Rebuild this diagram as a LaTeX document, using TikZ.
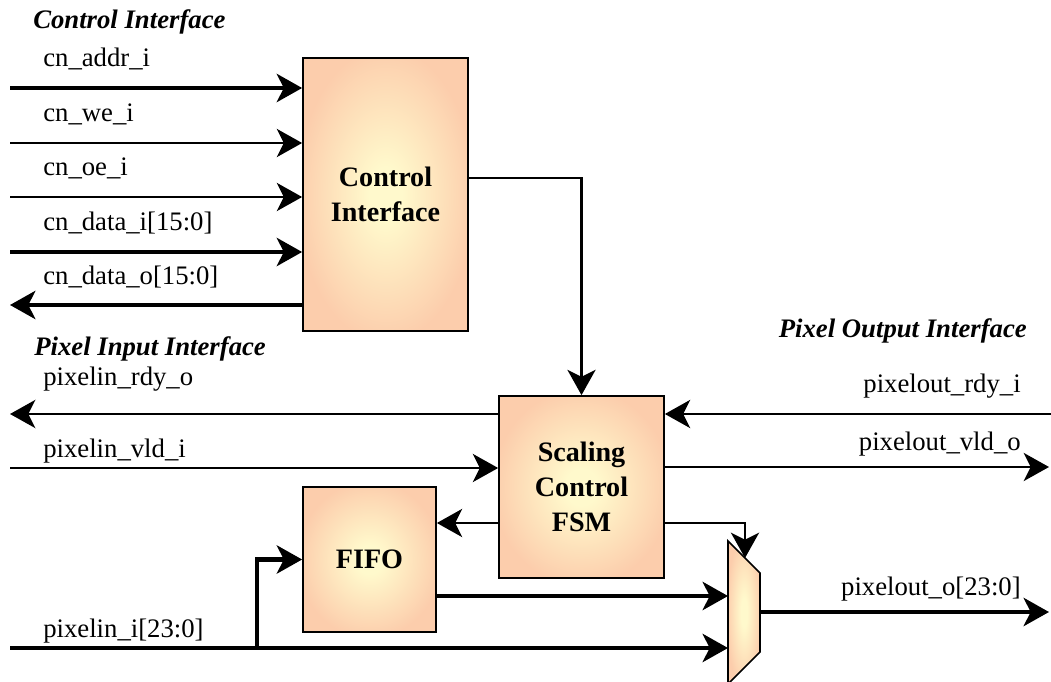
\documentclass[tikz,border=0pt]{standalone}
\usepackage{fontspec}
\setmainfont{Liberation Serif}
\usetikzlibrary{arrows.meta,calc}
\definecolor{glowin}{RGB}{255,249,204}
\definecolor{glowout}{RGB}{252,205,172}
\pgfdeclareradialshading{glow}{\pgfpoint{0bp}{0bp}}{color(0bp)=(glowin); color(5bp)=(glowin); color(27bp)=(glowout); color(50bp)=(glowout)}

\begin{document}
\begin{tikzpicture}[x=0.025cm, y=-0.025cm,
  blk/.style={draw, line width=1.2pt, shade, shading=glow, align=center, inner sep=0pt, font=\fontsize{20}{25}\selectfont\bfseries},
  sig/.style={line width=2pt, -{Stealth[length=18pt, width=20pt, inset=5pt]}},
  bus/.style={line width=3.4pt, -{Stealth[length=18pt, width=20pt, inset=5pt]}},
  lbl/.style={anchor=base west, inner sep=0pt, font=\fontsize{19}{22}\selectfont},
  rlbl/.style={anchor=base east, inner sep=0pt, font=\fontsize{19}{22}\selectfont},
  hdr/.style={anchor=base west, inner sep=0pt, font=\fontsize{19}{22}\selectfont\bfseries\itshape}]
    \useasboundingbox (0,0) rectangle (1051,682);
    % blocks
    \node[blk, minimum width=4.125cm, minimum height=6.825cm] (ctrl) at (385.5,194.5) {Control\\Interface};
    \node[blk, minimum width=4.125cm, minimum height=4.55cm] (fsm) at (581.5,487) {Scaling\\Control\\FSM};
    \node[blk, minimum width=3.325cm, minimum height=3.625cm] (fifo) at (369.5,559.5) {FIFO};
    \shadedraw[line width=1.2pt, shading=glow] (728,541) -- (760,573) -- (760,652) -- (728,684) -- cycle;
    \coordinate (muxsel) at (745,558);
    \coordinate (muxa) at (728,596);
    \coordinate (muxb) at (728,648);
    \coordinate (muxout) at (760,612);
    % headings
    \node[hdr] (hctrl) at (33,29) {Control Interface};
    \node[hdr] (hin) at (34,355) {Pixel Input Interface};
    \node[hdr, anchor=base east] (hout) at (1027,337) {Pixel Output Interface};
    % control port
    \coordinate (addr) at (10,88);
    \coordinate (we) at (10,143);
    \coordinate (oe) at (10,197);
    \coordinate (datai) at (10,252);
    \coordinate (datao) at (10,305);
    \node[lbl] (laddr) at (43,67) {cn\_addr\_i};
    \node[lbl] (lwe) at (43,122) {cn\_we\_i};
    \node[lbl] (loe) at (43,176) {cn\_oe\_i};
    \node[lbl] (ldatai) at (43,231) {cn\_data\_i[15:0]};
    \node[lbl] (ldatao) at (43,284) {cn\_data\_o[15:0]};
    \draw[bus] (addr) -- (addr -| ctrl.west);
    \draw[sig] (we) -- (we -| ctrl.west);
    \draw[sig] (oe) -- (oe -| ctrl.west);
    \draw[bus] (datai) -- (datai -| ctrl.west);
    \draw[bus] (datao -| ctrl.west) -- (datao);
    \draw[sig] ($(ctrl.east)+(0,-16.5)$) -| (fsm.north);
    % pixel input
    \coordinate (rdyo) at (10,414);
    \coordinate (vldi) at (10,468);
    \coordinate (pixi) at (10,648);
    \coordinate (tap) at (257,648);
    \node[lbl] (lrdyo) at (43,385) {pixelin\_rdy\_o};
    \node[lbl] (lvldi) at (43,457) {pixelin\_vld\_i};
    \node[lbl] (lpixi) at (43,637) {pixelin\_i[23:0]};
    \draw[sig] (rdyo -| fsm.west) -- (rdyo);
    \draw[sig] (vldi) -- (vldi -| fsm.west);
    \draw[bus] (pixi) -- (muxb);
    \draw[bus] (tap) |- (fifo.west);
    \coordinate (fsmfifo) at ($(fsm.west)+(0,36)$);
    \draw[sig] (fsmfifo) -- (fsmfifo -| fifo.east);
    \draw[bus] (fifo.east |- muxa) -- (muxa);
    \draw[sig] ($(fsm.east)+(0,36)$) -| (muxsel);
    % pixel output
    \coordinate (rdyi) at (1051,414);
    \coordinate (vldo) at (1049,467);
    \coordinate (pxo) at (1049,612);
    \node[rlbl] (lrdyi) at (1021,392) {pixelout\_rdy\_i};
    \node[rlbl] (lvldo) at (1021,450) {pixelout\_vld\_o};
    \node[rlbl] (lpxo) at (1021,595) {pixelout\_o[23:0]};
    \draw[sig] (rdyi) -- (rdyi -| fsm.east);
    \draw[sig] (vldo -| fsm.east) -- (vldo);
    \draw[bus] (muxout) -- (pxo);
\end{tikzpicture}
\end{document}
